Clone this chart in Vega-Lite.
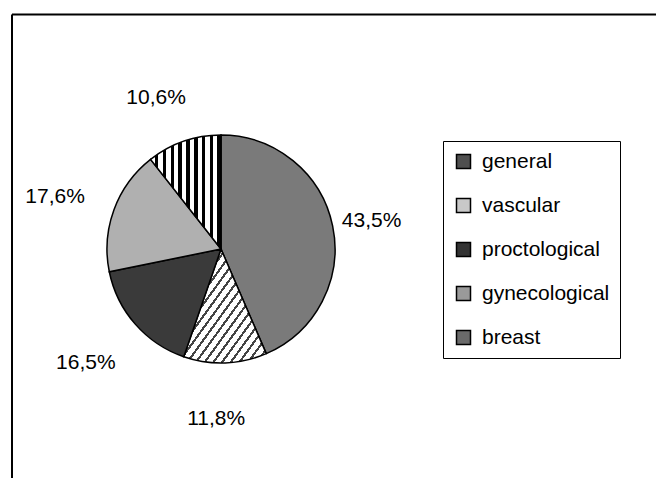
{
  "$schema": "https://vega.github.io/schema/vega-lite/v6.json",
  "autosize": {"type": "none"},
  "width": 644,
  "height": 463.5,
  "padding": {"left": 12, "top": 14.5, "right": 0, "bottom": 0},
  "background": "white",
  "config": {"view": {"stroke": "transparent"}},
  "data": {
    "values": [
      {"cat": "general", "pct": 43.5, "label": "43,5%", "ord": 1},
      {"cat": "vascular", "pct": 11.8, "label": "11,8%", "ord": 2},
      {"cat": "proctological", "pct": 16.5, "label": "16,5%", "ord": 3},
      {"cat": "gynecological", "pct": 17.6, "label": "17,6%", "ord": 4},
      {"cat": "breast", "pct": 10.6, "label": "10,6%", "ord": 5}
    ]
  },
  "layer": [
    {
      "data": {"values": [{"frame": 1}]},
      "mark": {"type": "rect", "fill": null, "stroke": "black", "strokeWidth": 2, "strokeDash": [644, 1107.5, 463.5, 0]},
      "encoding": {}
    },
    {
      "mark": {"type": "arc", "radius": 114, "x": 209, "y": 234.5, "stroke": "black", "strokeWidth": 1.5},
      "encoding": {
        "theta": {"field": "pct", "type": "quantitative", "stack": true},
        "order": {"field": "ord", "type": "quantitative"},
        "fill": {
          "field": "cat",
          "type": "nominal",
          "scale": {
            "domain": ["general", "vascular", "proctological", "gynecological", "breast"],
            "range": ["#4f4f4f", "#c8c8c8", "#333333", "#9a9a9a", "#6a6a6a"]
          },
          "condition": [
            {"test": "datum.cat === 'general'", "value": "#7a7a7a"},
            {"test": "datum.cat === 'vascular'", "value": {
              "gradient": "linear", "x1": 0, "y1": 0, "x2": 1, "y2": 1,
              "stops": [
                {"offset": 0, "color": "white"}, {"offset": 0.0368, "color": "white"}, {"offset": 0.0368, "color": "#444"}, {"offset": 0.0526, "color": "#444"},
                {"offset": 0.0526, "color": "white"}, {"offset": 0.0895, "color": "white"}, {"offset": 0.0895, "color": "#444"}, {"offset": 0.1053, "color": "#444"},
                {"offset": 0.1053, "color": "white"}, {"offset": 0.1421, "color": "white"}, {"offset": 0.1421, "color": "#444"}, {"offset": 0.1579, "color": "#444"},
                {"offset": 0.1579, "color": "white"}, {"offset": 0.1947, "color": "white"}, {"offset": 0.1947, "color": "#444"}, {"offset": 0.2105, "color": "#444"},
                {"offset": 0.2105, "color": "white"}, {"offset": 0.2474, "color": "white"}, {"offset": 0.2474, "color": "#444"}, {"offset": 0.2632, "color": "#444"},
                {"offset": 0.2632, "color": "white"}, {"offset": 0.3, "color": "white"}, {"offset": 0.3, "color": "#444"}, {"offset": 0.3158, "color": "#444"},
                {"offset": 0.3158, "color": "white"}, {"offset": 0.3526, "color": "white"}, {"offset": 0.3526, "color": "#444"}, {"offset": 0.3684, "color": "#444"},
                {"offset": 0.3684, "color": "white"}, {"offset": 0.4053, "color": "white"}, {"offset": 0.4053, "color": "#444"}, {"offset": 0.4211, "color": "#444"},
                {"offset": 0.4211, "color": "white"}, {"offset": 0.4579, "color": "white"}, {"offset": 0.4579, "color": "#444"}, {"offset": 0.4737, "color": "#444"},
                {"offset": 0.4737, "color": "white"}, {"offset": 0.5105, "color": "white"}, {"offset": 0.5105, "color": "#444"}, {"offset": 0.5263, "color": "#444"},
                {"offset": 0.5263, "color": "white"}, {"offset": 0.5632, "color": "white"}, {"offset": 0.5632, "color": "#444"}, {"offset": 0.5789, "color": "#444"},
                {"offset": 0.5789, "color": "white"}, {"offset": 0.6158, "color": "white"}, {"offset": 0.6158, "color": "#444"}, {"offset": 0.6316, "color": "#444"},
                {"offset": 0.6316, "color": "white"}, {"offset": 0.6684, "color": "white"}, {"offset": 0.6684, "color": "#444"}, {"offset": 0.6842, "color": "#444"},
                {"offset": 0.6842, "color": "white"}, {"offset": 0.7211, "color": "white"}, {"offset": 0.7211, "color": "#444"}, {"offset": 0.7368, "color": "#444"},
                {"offset": 0.7368, "color": "white"}, {"offset": 0.7737, "color": "white"}, {"offset": 0.7737, "color": "#444"}, {"offset": 0.7895, "color": "#444"},
                {"offset": 0.7895, "color": "white"}, {"offset": 0.8263, "color": "white"}, {"offset": 0.8263, "color": "#444"}, {"offset": 0.8421, "color": "#444"},
                {"offset": 0.8421, "color": "white"}, {"offset": 0.8789, "color": "white"}, {"offset": 0.8789, "color": "#444"}, {"offset": 0.8947, "color": "#444"},
                {"offset": 0.8947, "color": "white"}, {"offset": 0.9316, "color": "white"}, {"offset": 0.9316, "color": "#444"}, {"offset": 0.9474, "color": "#444"},
                {"offset": 0.9474, "color": "white"}, {"offset": 0.9842, "color": "white"}, {"offset": 0.9842, "color": "#444"}, {"offset": 1, "color": "#444"}
              ]
            }},
            {"test": "datum.cat === 'proctological'", "value": "#3a3a3a"},
            {"test": "datum.cat === 'gynecological'", "value": "#b0b0b0"},
            {"test": "datum.cat === 'breast'", "value": {
              "gradient": "linear", "x1": 0, "y1": 0, "x2": 1, "y2": 0,
              "stops": [
                {"offset": 0, "color": "white"}, {"offset": 0.0611, "color": "white"}, {"offset": 0.0611, "color": "black"}, {"offset": 0.1111, "color": "black"},
                {"offset": 0.1111, "color": "white"}, {"offset": 0.1722, "color": "white"}, {"offset": 0.1722, "color": "black"}, {"offset": 0.2222, "color": "black"},
                {"offset": 0.2222, "color": "white"}, {"offset": 0.2833, "color": "white"}, {"offset": 0.2833, "color": "black"}, {"offset": 0.3333, "color": "black"},
                {"offset": 0.3333, "color": "white"}, {"offset": 0.3944, "color": "white"}, {"offset": 0.3944, "color": "black"}, {"offset": 0.4444, "color": "black"},
                {"offset": 0.4444, "color": "white"}, {"offset": 0.5056, "color": "white"}, {"offset": 0.5056, "color": "black"}, {"offset": 0.5556, "color": "black"},
                {"offset": 0.5556, "color": "white"}, {"offset": 0.6167, "color": "white"}, {"offset": 0.6167, "color": "black"}, {"offset": 0.6667, "color": "black"},
                {"offset": 0.6667, "color": "white"}, {"offset": 0.7278, "color": "white"}, {"offset": 0.7278, "color": "black"}, {"offset": 0.7778, "color": "black"},
                {"offset": 0.7778, "color": "white"}, {"offset": 0.8389, "color": "white"}, {"offset": 0.8389, "color": "black"}, {"offset": 0.8889, "color": "black"},
                {"offset": 0.8889, "color": "white"}, {"offset": 0.95, "color": "white"}, {"offset": 0.95, "color": "black"}, {"offset": 1, "color": "black"}
              ]
            }}
          ],
          "legend": {
            "title": null,
            "orient": "none",
            "legendX": 431,
            "legendY": 126.5,
            "padding": 10,
            "rowPadding": 22,
            "labelFont": "Liberation Sans",
            "labelFontSize": 21,
            "labelColor": "black",
            "labelOffset": 8,
            "labelLimit": 300,
            "symbolType": "square",
            "symbolSize": 196,
            "symbolOpacity": 1,
            "symbolStrokeColor": "black",
            "symbolStrokeWidth": 1.5,
            "strokeColor": "black"
          }
        }
      }
    },
    {
      "mark": {"type": "text", "radius": 165, "x": 198, "y": 239.5, "font": "Liberation Sans", "fontSize": 21, "color": "black", "align": "center", "baseline": "middle"},
      "encoding": {
        "theta": {"field": "pct", "type": "quantitative", "stack": true},
        "order": {"field": "ord", "type": "quantitative"},
        "text": {"field": "label", "type": "nominal"}
      }
    }
  ]
}
